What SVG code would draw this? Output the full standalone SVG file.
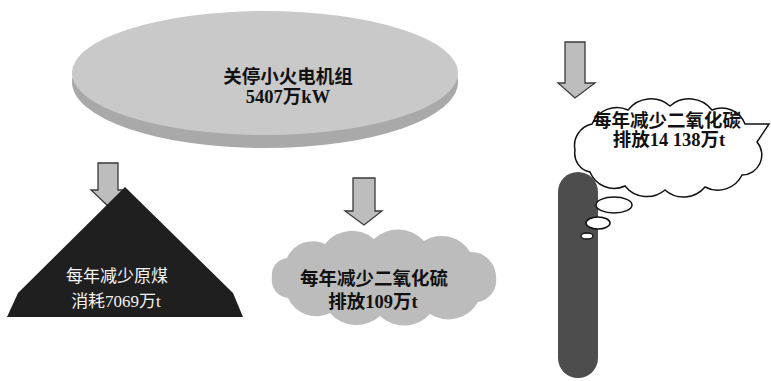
<svg xmlns="http://www.w3.org/2000/svg" width="771" height="381" viewBox="0 0 771 381">
<defs>
<style>
.t{font-family:"Liberation Serif","Noto Sans CJK SC",serif;font-size:17px;text-anchor:middle}
.b{font-weight:bold;fill:#111;font-size:18.5px}
.w{fill:#f4f4f4}
.arrow{fill:#bdbdbd;stroke:#3a3a3a;stroke-width:1.3;stroke-linejoin:miter}
</style>
</defs>
<rect width="771" height="381" fill="#ffffff"/>
<g id="connectors">
<path class="arrow" d="M98,163 H118 V190 H125 L108,206 L91,190 H98 Z"/>
<path class="arrow" d="M353,178 H375 V211 H382 L364,225 L345,211 H353 Z"/>
<path class="arrow" d="M565,42 H585 V83 H595 L575,98 L558,83 H565 Z"/>
</g>
<g id="node-plants">
<ellipse cx="265" cy="82" rx="193" ry="66" fill="#a9a9a9"/>
<ellipse cx="265" cy="73" rx="193" ry="62" fill="#c9c9c9"/>
<text class="t b" x="288" y="83">关停小火电机组</text>
<text class="t b" x="288" y="103">5407万kW</text>
</g>
<g id="node-coal">
<polygon points="125,187 233,293 243,317 7,317 18,293" fill="#1f1f1f"/>
<text class="t w" x="117" y="282">每年减少原煤</text>
<text class="t w" x="116" y="307">消耗7069万t</text>
</g>
<g id="node-so2">
<path fill="#bcbcbc" d="M272,277 A17 17 0 0 1 287,258 A28 28 0 0 1 325,244 A34 34 0 0 1 374,239 A35 35 0 0 1 424,241 A33 33 0 0 1 470,252 A25 25 0 0 1 496,277 A22 22 0 0 1 478,302 A34 34 0 0 1 430,314 A35 35 0 0 1 380,316 A35 35 0 0 1 330,313 A31 31 0 0 1 288,298 A18 18 0 0 1 272,277 Z"/>
<text class="t b" x="374" y="285">每年减少二氧化硫</text>
<text class="t b" x="373" y="308">排放109万t</text>
</g>
<g id="node-co2">
<rect x="558" y="172" width="40" height="206" rx="20" ry="20" fill="#4d4d4d"/>
<path fill="#ffffff" stroke="#111" stroke-width="1.5" d="M575,150 A22 22 0 0 1 592,124 A27 27 0 0 1 628,110 A29 29 0 0 1 670,106 A29 29 0 0 1 712,110 A25 25 0 0 1 745,124 L769,124 L757,142 A20 20 0 0 1 742,175 A27 27 0 0 1 705,187 A28 28 0 0 1 665,190 A28 28 0 0 1 625,186 A26 26 0 0 1 590,172 A19 19 0 0 1 575,150 Z"/>
<ellipse cx="614" cy="205" rx="18" ry="8" fill="#ffffff" stroke="#111" stroke-width="1.5"/>
<ellipse cx="598" cy="223" rx="12" ry="6" fill="#ffffff" stroke="#111" stroke-width="1.5"/>
<ellipse cx="587" cy="236" rx="6" ry="3" fill="#ffffff" stroke="#111" stroke-width="1.3"/>
<text class="t b" x="667" y="127">每年减少二氧化碳</text>
<text class="t b" x="669" y="146">排放14 138万t</text>
</g>
</svg>
